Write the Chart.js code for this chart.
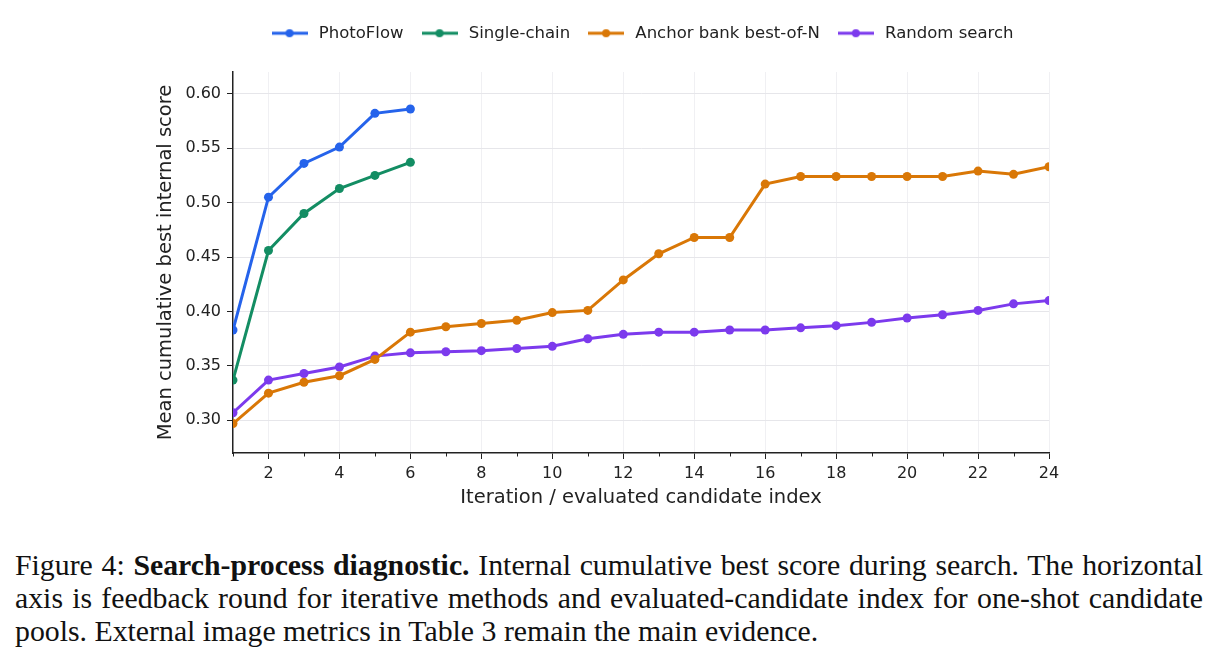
<!DOCTYPE html>
<html>
<head>
<meta charset="utf-8">
<script src="https://cdn.jsdelivr.net/npm/chart.js@4"></script>
<style>
  body { margin: 0; background: #fff; width: 1219px; height: 662px; overflow: hidden; }
  #wrap { position: relative; width: 1219px; height: 520px; }
  .caption { position: absolute; left: 15px; width: 1188px; font-family: "Liberation Serif", "Times New Roman", serif; font-size: 29.8px; color: #111; line-height: 33px; }
  .caption div { white-space: nowrap; }
  .caption .just { text-align: justify; text-align-last: justify; white-space: normal; }
</style>
</head>
<body>
<div id="wrap"><canvas id="chart" width="1219" height="520"></canvas></div>
<div class="caption" style="top:548px">
  <div class="just">Figure 4: <b>Search-process diagnostic.</b> Internal cumulative best score during search. The horizontal</div>
  <div class="just">axis is feedback round for iterative methods and evaluated-candidate index for one-shot candidate</div>
  <div>pools. External image metrics in Table 3 remain the main evidence.</div>
</div>
<script>
const seriesNames = ['PhotoFlow', 'Single-chain', 'Anchor bank best-of-N', 'Random search'];
const seriesColors = ['#2563eb', '#138d63', '#d97706', '#7c3aed'];

const photoFlow = [0.383, 0.505, 0.536, 0.551, 0.582, 0.586];
const singleChain = [0.337, 0.456, 0.490, 0.513, 0.525, 0.537];
const anchorBank = [0.297, 0.325, 0.335, 0.341, 0.356, 0.381, 0.386, 0.389, 0.392, 0.399, 0.401, 0.429,
                    0.453, 0.468, 0.468, 0.517, 0.524, 0.524, 0.524, 0.524, 0.524, 0.529, 0.526, 0.533];
const randomSearch = [0.307, 0.337, 0.343, 0.349, 0.359, 0.362, 0.363, 0.364, 0.366, 0.368, 0.375, 0.379,
                      0.381, 0.381, 0.383, 0.383, 0.385, 0.387, 0.390, 0.394, 0.397, 0.401, 0.407, 0.410];

const xTicks = [2, 4, 6, 8, 10, 12, 14, 16, 18, 20, 22, 24];
const xMinorTicks = [1, 3, 5, 7, 9, 11, 13, 15, 17, 19, 21, 23];
const yTicks = [0.30, 0.35, 0.40, 0.45, 0.50, 0.55, 0.60];

const FONT = 'DejaVu Sans';
const INK = '#222';

// legend marker: short line with a dot in the middle
function legendMarker(color) {
  const c = document.createElement('canvas');
  c.width = 36; c.height = 10;
  const g = c.getContext('2d');
  g.strokeStyle = color; g.lineWidth = 3;
  g.beginPath(); g.moveTo(0, 5); g.lineTo(36, 5); g.stroke();
  g.fillStyle = color;
  g.beginPath(); g.arc(18, 5, 4, 0, Math.PI * 2); g.fill();
  return c;
}

const allSeries = [photoFlow, singleChain, anchorBank, randomSearch];
const datasets = allSeries.map((vals, i) => ({
  label: seriesNames[i],
  data: vals.map((v, k) => ({ x: k + 1, y: v })),
  borderColor: seriesColors[i],
  backgroundColor: seriesColors[i],
  borderWidth: 3,
  pointRadius: 4.5,
  pointHoverRadius: 4.5,
  pointBorderWidth: 0,
  pointStyle: 'circle',
  tension: 0,
  clip: 0
}));

// fixed legend band height, and centre the legend over the plot area
const legendPlace = {
  id: 'legendPlace',
  beforeInit(chart) {
    const fit = chart.legend.fit;
    chart.legend.fit = function () {
      fit.call(this);
      this.height = 62;
    };
  },
  afterLayout(chart) {
    const a = chart.chartArea;
    const shift = (a.left + a.right) / 2 - (chart.legend.left + chart.legend.right) / 2;
    chart.legend.left += shift;
    chart.legend.right += shift;
  }
};

// short minor tick marks on the x axis at odd values
const minorTicks = {
  id: 'minorTicks',
  afterDraw(chart) {
    const x = chart.scales.x;
    const ctx = chart.ctx;
    ctx.save();
    ctx.strokeStyle = INK;
    ctx.lineWidth = 1;
    xMinorTicks.forEach(v => {
      const px = Math.round(x.getPixelForValue(v)) + 0.5;
      ctx.beginPath();
      ctx.moveTo(px, x.top);
      ctx.lineTo(px, x.top + 3.5);
      ctx.stroke();
    });
    ctx.restore();
  }
};

new Chart(document.getElementById('chart'), {
  type: 'line',
  data: { datasets },
  plugins: [legendPlace, minorTicks],
  options: {
    responsive: false,
    animation: false,
    events: [],
    layout: { padding: { left: 150, right: 170, top: 10, bottom: 6 } },
    plugins: {
      tooltip: { enabled: false },
      legend: {
        position: 'top',
        align: 'center',
        labels: {
          usePointStyle: true,
          pointStyleWidth: 42,
          padding: 15,
          color: INK,
          font: { family: FONT, size: 16.5 },
          generateLabels: chart => chart.data.datasets.map((ds, i) => ({
            text: ds.label,
            pointStyle: legendMarker(seriesColors[i]),
            fillStyle: seriesColors[i],
            strokeStyle: seriesColors[i],
            lineWidth: 0,
            datasetIndex: i,
            fontColor: INK
          }))
        }
      }
    },
    scales: {
      x: {
        type: 'linear',
        min: 1,
        max: 24,
        afterFit: s => { s.height = 61; },
        afterBuildTicks: s => { s.ticks = xTicks.map(v => ({ value: v })); },
        border: { display: true, color: INK, width: 1.5 },
        grid: { color: '#f0f0f3', tickColor: INK, tickLength: 6 },
        ticks: {
          autoSkip: false,
          maxRotation: 0,
          padding: 5,
          color: INK,
          font: { family: FONT, size: 16 },
          callback: v => String(v)
        },
        title: {
          display: true,
          text: 'Iteration / evaluated candidate index',
          color: INK,
          font: { family: FONT, size: 19.5 },
          padding: { top: 4, bottom: 4 }
        }
      },
      y: {
        min: 0.27,
        max: 0.62,
        afterFit: s => { s.width = 83; },
        afterBuildTicks: s => { s.ticks = yTicks.map(v => ({ value: v })); },
        border: { display: true, color: INK, width: 1.5 },
        grid: { color: '#e6e6ea', tickColor: INK, tickLength: 6 },
        ticks: {
          padding: 6,
          color: INK,
          font: { family: FONT, size: 16 },
          callback: v => v.toFixed(2)
        },
        title: {
          display: true,
          text: 'Mean cumulative best internal score',
          color: INK,
          font: { family: FONT, size: 19.5 },
          padding: { top: 4, bottom: 4 }
        }
      }
    }
  }
});
</script>
</body>
</html>
